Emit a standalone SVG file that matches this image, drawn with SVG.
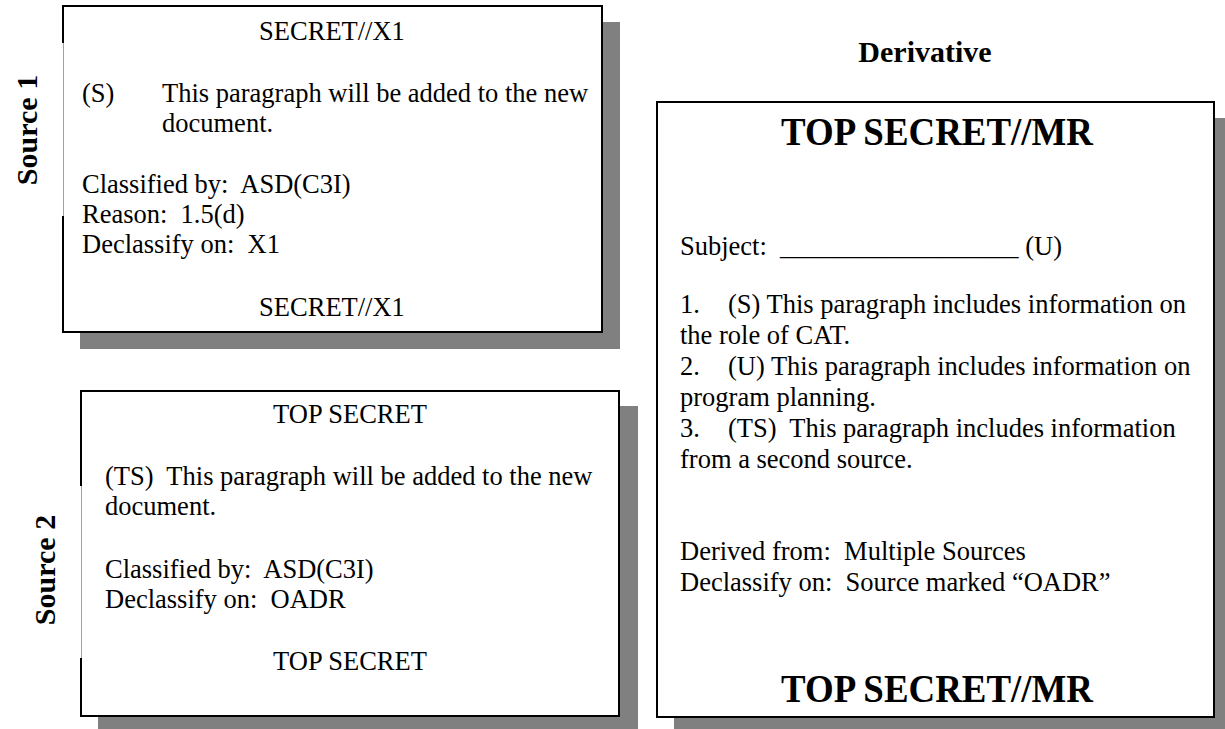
<svg xmlns="http://www.w3.org/2000/svg" width="1225" height="729" viewBox="0 0 1225 729">
<style>
  .t { font-family: "Liberation Serif", "Times New Roman", serif; font-size: 26.5px; fill: #000; }
  .c { text-anchor: middle; }
  .lbl { font-family: "Liberation Serif", "Times New Roman", serif; font-size: 30px; font-weight: bold; fill: #000; }
  .big { font-family: "Liberation Serif", "Times New Roman", serif; font-size: 41px; font-weight: bold; fill: #000; text-anchor: middle; }
  .shadow { fill: #808080; }
  .page { fill: #fff; }
  .edge { fill: none; stroke: #000; stroke-width: 2; }
  .thin { fill: none; stroke: #a0a0a0; stroke-width: 1; }
</style>
<rect width="1225" height="729" fill="#fff"/>

<g id="source1">
  <rect class="shadow" x="80" y="22" width="540" height="327"/>
  <rect class="page" x="63" y="6" width="539" height="326"/>
  <path class="edge" d="M63 43 V6 H602 V332 H63 V216"/>
  <path class="thin" d="M63.5 43 V216"/>
  <text class="lbl" text-anchor="middle" transform="translate(37,130) rotate(-90)">Source 1</text>
  <text class="t c" x="332" y="40">SECRET//X1</text>
  <text class="t" x="82" y="102">(S)</text>
  <text class="t" x="162" y="102">This paragraph will be added to the new</text>
  <text class="t" x="162" y="132">document.</text>
  <text class="t" x="82" y="193" xml:space="preserve">Classified by:  ASD(C3I)</text>
  <text class="t" x="82" y="223" xml:space="preserve">Reason:  1.5(d)</text>
  <text class="t" x="82" y="253" xml:space="preserve">Declassify on:  X1</text>
  <text class="t c" x="332" y="316">SECRET//X1</text>
</g>

<g id="source2">
  <rect class="shadow" x="98" y="406" width="540" height="323"/>
  <rect class="page" x="81" y="391" width="538" height="325"/>
  <path class="edge" d="M81 486 V391 H619 V716 H81 V658"/>
  <path class="thin" d="M81.5 486 V658"/>
  <text class="lbl" text-anchor="middle" transform="translate(55,570) rotate(-90)">Source 2</text>
  <text class="t c" x="350" y="423">TOP SECRET</text>
  <text class="t" x="105" y="485" xml:space="preserve">(TS)  This paragraph will be added to the new</text>
  <text class="t" x="105" y="515">document.</text>
  <text class="t" x="105" y="578" xml:space="preserve">Classified by:  ASD(C3I)</text>
  <text class="t" x="105" y="608" xml:space="preserve">Declassify on:  OADR</text>
  <text class="t c" x="350" y="670">TOP SECRET</text>
</g>

<g id="derivative">
  <text class="lbl" text-anchor="middle" x="925" y="62">Derivative</text>
  <rect class="shadow" x="674" y="118" width="560" height="620"/>
  <rect class="page" x="657" y="102" width="557" height="615"/>
  <rect class="edge" x="657" y="102" width="557" height="615"/>
  <text class="big" transform="translate(937,145) scale(0.9,1)">TOP SECRET//MR</text>
  <text class="t" x="680" y="255" xml:space="preserve">Subject:  __________________ (U)</text>
  <text class="t" x="680" y="313">1.</text>
  <text class="t" x="728" y="313">(S) This paragraph includes information on</text>
  <text class="t" x="680" y="344">the role of CAT.</text>
  <text class="t" x="680" y="375">2.</text>
  <text class="t" x="728" y="375">(U) This paragraph includes information on</text>
  <text class="t" x="680" y="406">program planning.</text>
  <text class="t" x="680" y="437">3.</text>
  <text class="t" x="728" y="437" xml:space="preserve">(TS)  This paragraph includes information</text>
  <text class="t" x="680" y="468">from a second source.</text>
  <text class="t" x="680" y="560" xml:space="preserve">Derived from:  Multiple Sources</text>
  <text class="t" x="680" y="591" xml:space="preserve">Declassify on:  Source marked “OADR”</text>
  <text class="big" transform="translate(937,702) scale(0.9,1)">TOP SECRET//MR</text>
</g>

<g id="connectors"></g>
</svg>
